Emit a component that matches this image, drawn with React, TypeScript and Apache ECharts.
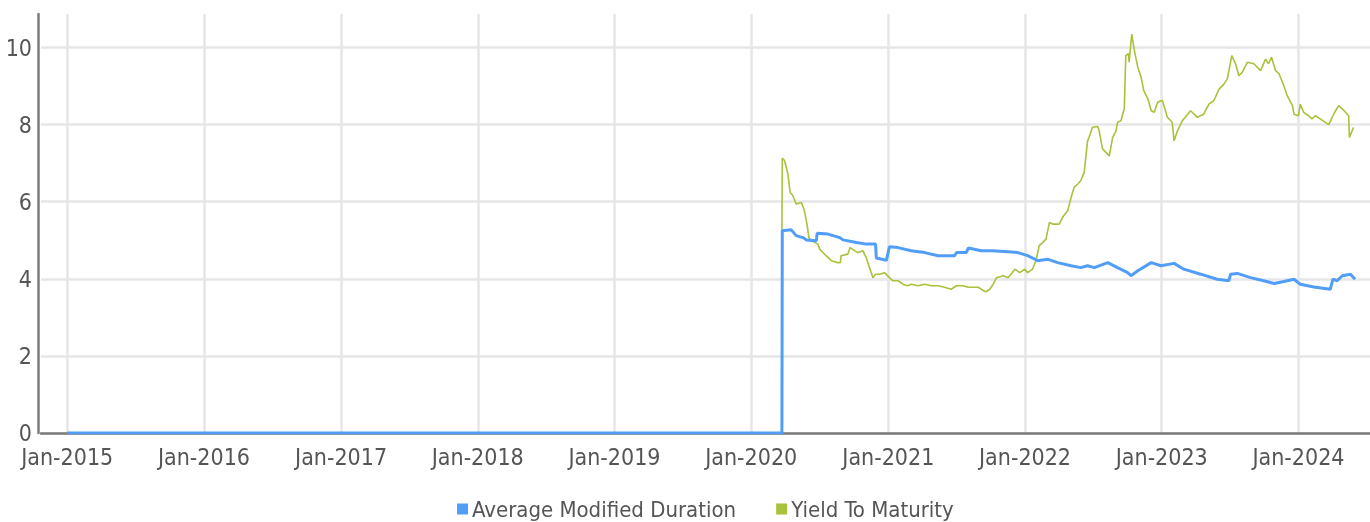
import React, { useEffect, useRef } from 'react';
import * as echarts from 'echarts';

// Average Modified Duration
const durationDates = [
  '2015-01-01', '2020-03-23', '2020-03-24', '2020-04-17', '2020-04-30', '2020-05-18', '2020-05-27',
  '2020-06-23', '2020-06-25', '2020-07-24', '2020-08-24', '2020-09-02', '2020-10-08', '2020-11-03',
  '2020-11-28', '2020-11-30', '2020-12-27', '2021-01-04', '2021-01-27', '2021-03-03', '2021-04-08',
  '2021-05-14', '2021-06-27', '2021-07-02', '2021-07-28', '2021-08-03', '2021-09-06', '2021-10-03',
  '2021-11-07', '2021-12-13', '2022-01-08', '2022-02-04', '2022-03-02', '2022-03-29', '2022-05-04',
  '2022-05-30', '2022-06-17', '2022-07-05', '2022-08-10', '2022-09-05', '2022-10-02', '2022-10-11',
  '2022-10-29', '2022-12-04', '2022-12-30', '2023-02-03', '2023-03-01', '2023-04-15', '2023-05-29',
  '2023-06-29', '2023-07-04', '2023-07-22', '2023-08-26', '2023-09-22', '2023-10-28', '2023-11-23',
  '2023-12-20', '2024-01-06', '2024-02-11', '2024-03-26', '2024-04-02', '2024-04-13', '2024-04-27',
  '2024-05-19', '2024-05-31',
];
const durationValues = [
  0, 0, 5.25, 5.27, 5.12, 5.07, 5.01,
  4.99, 5.18, 5.16, 5.07, 5.01, 4.94, 4.9,
  4.9, 4.54, 4.48, 4.83, 4.81, 4.73, 4.68,
  4.6, 4.6, 4.68, 4.68, 4.8, 4.73, 4.73,
  4.71, 4.68, 4.6, 4.47, 4.51, 4.42, 4.34,
  4.29, 4.34, 4.29, 4.42, 4.29, 4.16, 4.08,
  4.21, 4.42, 4.34, 4.4, 4.25, 4.12, 3.99,
  3.95, 4.12, 4.14, 4.03, 3.97, 3.88, 3.93,
  3.99, 3.86, 3.79, 3.73, 3.99, 3.95, 4.08,
  4.12, 3.99,
];

// Yield To Maturity
const yieldDates = [
  '2020-03-23', '2020-03-24', '2020-03-30', '2020-04-08', '2020-04-14', '2020-04-21', '2020-04-30',
  '2020-05-14', '2020-05-22', '2020-05-29', '2020-06-03', '2020-06-09', '2020-06-27', '2020-07-02',
  '2020-07-19', '2020-08-02', '2020-08-19', '2020-08-26', '2020-08-28', '2020-09-15', '2020-09-21',
  '2020-10-03', '2020-10-12', '2020-10-25', '2020-11-03', '2020-11-12', '2020-11-21', '2020-11-28',
  '2020-12-09', '2020-12-22', '2021-01-04', '2021-01-13', '2021-01-27', '2021-02-09', '2021-02-22',
  '2021-03-03', '2021-03-21', '2021-04-08', '2021-04-26', '2021-05-14', '2021-05-31', '2021-06-18',
  '2021-07-02', '2021-07-20', '2021-08-02', '2021-08-20', '2021-08-29', '2021-09-16', '2021-09-20',
  '2021-09-29', '2021-10-08', '2021-10-17', '2021-11-04', '2021-11-17', '2021-12-05', '2021-12-18',
  '2021-12-31', '2022-01-08', '2022-01-21', '2022-01-30', '2022-02-08', '2022-02-17', '2022-02-26',
  '2022-03-07', '2022-03-16', '2022-04-02', '2022-04-11', '2022-04-25', '2022-05-04', '2022-05-12',
  '2022-05-22', '2022-05-30', '2022-06-08', '2022-06-17', '2022-06-21', '2022-06-30', '2022-07-14',
  '2022-07-18', '2022-07-27', '2022-08-05', '2022-08-14', '2022-08-23', '2022-09-01', '2022-09-05',
  '2022-09-14', '2022-09-23', '2022-09-27', '2022-10-04', '2022-10-06', '2022-10-13', '2022-10-20',
  '2022-10-29', '2022-11-07', '2022-11-14', '2022-11-25', '2022-12-04', '2022-12-12', '2022-12-21',
  '2022-12-30', '2023-01-03', '2023-01-16', '2023-01-29', '2023-02-03', '2023-02-12', '2023-02-25',
  '2023-03-19', '2023-04-06', '2023-04-23', '2023-05-07', '2023-05-20', '2023-06-03', '2023-06-16',
  '2023-06-25', '2023-07-07', '2023-07-17', '2023-07-26', '2023-08-04', '2023-08-18', '2023-09-04',
  '2023-09-22', '2023-10-05', '2023-10-13', '2023-10-21', '2023-11-01', '2023-11-10', '2023-11-23',
  '2023-12-02', '2023-12-16', '2023-12-20', '2024-01-01', '2024-01-06', '2024-01-15', '2024-01-28',
  '2024-02-06', '2024-02-15', '2024-02-28', '2024-03-13', '2024-03-22', '2024-04-04', '2024-04-17',
  '2024-04-27', '2024-05-14', '2024-05-16', '2024-05-27',
];
const yieldValues = [
  5.25, 7.13, 7.07, 6.72, 6.24, 6.16, 5.94,
  5.98, 5.77, 5.42, 5.07, 4.99, 4.9, 4.77,
  4.6, 4.47, 4.42, 4.42, 4.6, 4.64, 4.81,
  4.73, 4.68, 4.73, 4.55, 4.29, 4.03, 4.12,
  4.12, 4.16, 4.03, 3.95, 3.95, 3.86, 3.82,
  3.86, 3.82, 3.86, 3.82, 3.82, 3.78, 3.73,
  3.82, 3.82, 3.78, 3.78, 3.78, 3.67, 3.67,
  3.73, 3.86, 4.03, 4.08, 4.03, 4.25, 4.16,
  4.25, 4.16, 4.25, 4.47, 4.86, 4.94, 5.03,
  5.46, 5.42, 5.42, 5.59, 5.77, 6.11, 6.37,
  6.46, 6.55, 6.76, 7.58, 7.67, 7.93, 7.95,
  7.84, 7.37, 7.28, 7.19, 7.67, 7.84, 8.06,
  8.1, 8.41, 9.79, 9.84, 9.62, 10.35, 9.92,
  9.49, 9.23, 8.88, 8.67, 8.36, 8.32, 8.58,
  8.62, 8.62, 8.19, 8.06, 7.58, 7.84, 8.1,
  8.36, 8.19, 8.27, 8.53, 8.62, 8.92, 9.05,
  9.18, 9.79, 9.58, 9.27, 9.36, 9.62, 9.58,
  9.4, 9.7, 9.58, 9.75, 9.4, 9.32, 9.01,
  8.75, 8.49, 8.27, 8.23, 8.53, 8.32, 8.23,
  8.15, 8.23, 8.15, 8.06, 8.0, 8.27, 8.49,
  8.41, 8.23, 7.67, 7.93,
];

const xTickLabels = ['Jan-2015', 'Jan-2016', 'Jan-2017', 'Jan-2018', 'Jan-2019', 'Jan-2020', 'Jan-2021', 'Jan-2022', 'Jan-2023', 'Jan-2024'];
const xMin = '2014-10-23';
const xMax = '2024-07-10';
const yMax = 10.87;

const seriesNames = ['Average Modified Duration', 'Yield To Maturity'];
const BLUE = '#519df7';
const GREEN = '#a8c23b';
const FONT = "'Liberation Sans Narrow', 'Arial Narrow', 'DejaVu Sans Condensed', 'Liberation Sans', sans-serif";

export default function App() {
  const ref = useRef<HTMLDivElement>(null);
  useEffect(() => {
    if (!ref.current) return;
    const chart = echarts.init(ref.current, undefined, { renderer: 'svg' });
    const year = 365 * 24 * 3600 * 1000;
    chart.setOption({
      animation: false,
      textStyle: { fontFamily: FONT },
      grid: { left: 41, right: 0, top: 14, bottom: 89, containLabel: false, outerBoundsMode: 'none' },
      legend: {
        data: seriesNames.map((n, i) => ({ name: n, itemStyle: { color: i === 0 ? BLUE : GREEN } })),
        icon: 'rect',
        itemWidth: 11,
        itemHeight: 11,
        itemGap: 40,
        top: 493,
        left: 452,
        textStyle: { fontFamily: FONT, fontSize: 22, color: '#555', padding: [0, 0, 0, -1] },
      },
      xAxis: {
        type: 'time',
        min: xMin,
        max: xMax,
        splitNumber: 10,
        minInterval: year,
        maxInterval: year + 24 * 3600 * 1000,
        offset: 2,
        axisLine: { show: true, lineStyle: { color: '#7b7b7b', width: 2.5 } },
        axisTick: { show: false },
        axisLabel: {
          color: '#555',
          fontSize: 23,
          fontFamily: FONT,
          margin: 10,
          showMinLabel: false,
          showMaxLabel: false,
          hideOverlap: false,
          formatter: (val: number) => {
            const d = new Date(val);
            if (d.getMonth() !== 0 || d.getDate() !== 1) return '';
            const idx = d.getFullYear() - 2015;
            return xTickLabels[idx] ?? '';
          },
        },
        splitLine: { show: true, showMinLine: false, showMaxLine: false, lineStyle: { color: '#e6e6e6', width: 2.5 } },
      },
      yAxis: {
        type: 'value',
        min: 0,
        max: yMax,
        interval: 2,
        offset: 3,
        axisLine: { show: true, lineStyle: { color: '#7b7b7b', width: 2.5 } },
        axisTick: { show: false },
        axisLabel: { color: '#555', fontSize: 23, fontFamily: FONT, margin: 6, showMaxLabel: false, verticalAlign: 'middle' },
        splitLine: { show: true, showMaxLine: false, lineStyle: { color: '#e6e6e6', width: 2.5 } },
      },
      series: [
        {
          name: seriesNames[0],
          type: 'line',
          showSymbol: false,
          symbol: 'none',
          color: BLUE,
          lineStyle: { color: BLUE, width: 3 },
          data: durationDates.map((d, i) => [d, durationValues[i]]),
          z: 3,
        },
        {
          name: seriesNames[1],
          type: 'line',
          showSymbol: false,
          symbol: 'none',
          color: GREEN,
          lineStyle: { color: GREEN, width: 1.6 },
          data: yieldDates.map((d, i) => [d, yieldValues[i]]),
          z: 2,
        },
      ],
    });
    return () => chart.dispose();
  }, []);
  return <div ref={ref} style={{ position: 'fixed', left: 0, top: 0, width: 1370, height: 522 }} />;
}
